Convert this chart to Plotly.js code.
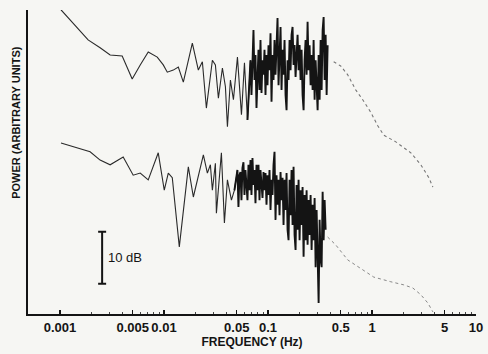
<!DOCTYPE html>
<html>
<head>
<meta charset="utf-8">
<script src="https://cdn.plot.ly/plotly-3.0.1.min.js"></script>
<style>html,body{margin:0;padding:0;background:#f6f6f3;}#chart{width:488px;height:354px;}</style>
</head>
<body>
<div id="chart"></div>
<script>
// ---- Upper spectrum (Hz, dB) ----
const upperFreq = [0.001022,0.001395,0.001862,0.002429,0.003033,0.00396,0.004943,0.005903,0.007051,0.008608,0.009835,0.010748,0.012279,0.013721,0.015333,0.018722,0.021386,0.023376,0.025543,0.029184,0.031189,0.033336,0.036428,0.038937,0.040703,0.043501,0.046497,0.050821,0.055545,0.059362,0.063445,
0.06781,0.06934,0.07089,0.07248,0.07411,0.07577,0.07747,0.07921,0.08099,0.08280,0.08466,0.08656,0.08850,0.09049,0.09252,0.09459,0.09672,0.09889,0.10110,0.10337,0.10569,0.10806,0.11049,0.11297,0.11550,0.11809,0.12074,0.12345,0.12622,0.12905,0.13195,0.13491,0.13794,0.14103,0.14420,0.14743,0.15074,0.15412,0.15758,0.16112,0.16473,0.16843,0.17221,0.17607,0.18002,0.18406,0.18819,0.19241,0.19673,0.20114,0.20566,0.21027,0.21499,0.21981,0.22474,0.22978,0.23494,0.24021,0.24560,0.25111,0.25675,0.26251,0.26840,0.27442,0.28058,0.28687,0.29331,0.29989,0.30662,0.31350,0.32053,0.32772,0.33508,0.34259,0.35028,0.35814,0.36618,0.37439];
const upperPower = [58.5,55.6,52.7,51.2,49.8,49.6,45.2,47.9,50.4,49.4,47.9,46.5,46.9,47.5,44.6,52.1,46.9,48.5,39.6,48.8,47.9,41.5,47.3,43.7,36.0,45.0,41.2,49.4,38.3,48.3,37.3,
48.8,42.1,51.7,54.6,45.0,49.8,39.6,46.9,50.8,43.1,52.7,42.5,48.8,46.0,50.8,42.1,49.8,44.0,51.7,46.9,54.0,40.8,49.8,45.0,52.7,46.0,50.8,56.9,44.0,51.7,55.2,43.1,50.8,46.0,52.7,42.1,39.2,48.8,45.0,52.7,46.9,53.7,55.2,47.9,51.7,45.6,50.8,53.7,46.9,51.7,45.0,50.8,42.1,39.2,48.8,52.7,46.0,56.2,46.9,51.7,44.0,49.8,43.1,52.7,41.2,48.8,44.0,39.2,49.8,41.2,52.7,43.1,54.6,57.1,45.0,53.7,42.1,51.7];
const upperSmoothCount = 31;   // points before the dense high-resolution band
const upperTailFreq = [0.4279,0.4997,0.5840,0.6972,0.8144,0.9726,1.1363,1.2980,1.6941,2.3631,2.9497,3.5236,3.8509];
const upperTailPower = [48.5,47.7,46.0,43.1,41.2,38.8,36.2,34.4,33.1,31.0,28.7,26.2,24.4];

// ---- Lower spectrum (Hz, dB) ----
const lowerFreq = [0.001022,0.001395,0.001946,0.002429,0.003033,0.004049,0.005054,0.005903,0.007051,0.008801,0.010056,0.010989,0.012009,0.014029,0.017130,0.019142,0.023900,0.026117,0.027912,0.029184,0.031189,0.031889,0.035628,0.038082,0.040703,0.044477,0.047540,
0.05082,0.05196,0.05313,0.05432,0.05554,0.05679,0.05806,0.05936,0.06069,0.06206,0.06345,0.06487,0.06633,0.06781,0.06934,0.07089,0.07248,0.07411,0.07577,0.07747,0.07921,0.08099,0.08280,0.08466,0.08656,0.08850,0.09049,0.09252,0.09459,0.09672,0.09889,0.10110,0.10337,0.10569,0.10806,0.11049,0.11297,0.11550,0.11809,0.12074,0.12345,0.12622,0.12905,0.13195,0.13491,0.13794,0.14103,0.14420,0.14743,0.15074,0.15412,0.15758,0.16112,0.16473,0.16843,0.17221,0.17607,0.18002,0.18406,0.18819,0.19241,0.19673,0.20114,0.20566,0.21027,0.21499,0.21981,0.22474,0.22978,0.23494,0.24021,0.24560,0.25111,0.25675,0.26251,0.26840,0.27442,0.28058,0.28687,0.29331,0.29989,0.30662,0.31350,0.32053,0.32772,0.33508,0.34259,0.35028,0.35814];
const lowerPower = [32.9,32.1,31.2,29.6,28.7,30.2,26.7,27.1,25.8,31.0,23.8,27.1,26.2,12.9,28.3,22.5,30.6,27.1,28.7,23.8,29.0,19.4,31.0,17.5,25.8,21.9,23.8,
27.7,20.6,26.7,27.3,21.9,28.1,29.2,22.9,27.7,24.8,21.9,28.7,23.8,29.6,22.9,30.0,24.8,27.7,21.3,28.7,23.8,28.7,21.9,27.7,24.8,22.3,27.3,23.8,27.1,21.0,26.7,22.9,27.7,20.0,25.8,22.9,28.7,31.2,18.1,26.7,21.0,25.8,19.0,27.3,21.9,26.2,17.1,25.8,20.0,27.1,16.2,14.2,25.8,19.0,27.7,17.1,28.3,15.2,12.3,24.8,16.2,25.8,14.2,23.8,17.1,24.4,11.0,22.9,14.2,23.8,13.3,21.9,15.2,22.9,12.3,21.0,14.2,22.3,9.0,20.0,11.3,2.1,18.1,10.4,9.0,23.5,14.2,21.9,16.2];
const lowerSmoothCount = 27;
const lowerTailFreq = [0.3744,0.4474,0.5840,0.7791,1.0396,1.5161,2.0232,2.4704,2.9497,3.4463,3.8509];
const lowerTailPower = [14.8,13.3,10.4,8.8,7.1,6.2,5.6,5.0,3.7,2.1,0.4];

// ---- Scale bar (10 dB) ----
const scaleFreq = [0.00254];
const scaleMid = [10.8];
const scaleHalf = [5];

// ---- Axis ticks ----
const tickVals = [0.001,0.005,0.01,0.05,0.1,0.5,1,5,10];
const tickText = ['0.001','0.005','0.01','0.05','0.1','0.5','1','5','10'];
const minorVals = [];
[0.001,0.01,0.1,1].forEach(d => { for (let k = 2; k <= 9; k++) minorVals.push(d * k); });

const ink = '#141414';
const traces = [
  {x: upperFreq.slice(0, upperSmoothCount + 1), y: upperPower.slice(0, upperSmoothCount + 1), mode:'lines', line:{color:'#2a2a2a', width:1.1}, hoverinfo:'skip'},
  {x: upperFreq.slice(upperSmoothCount - 1), y: upperPower.slice(upperSmoothCount - 1), mode:'lines', line:{color:ink, width:1.9}, hoverinfo:'skip'},
  {x: upperTailFreq, y: upperTailPower, mode:'lines', line:{color:'#777', width:1.1, dash:'3px,3px'}, hoverinfo:'skip'},
  {x: lowerFreq.slice(0, lowerSmoothCount + 1), y: lowerPower.slice(0, lowerSmoothCount + 1), mode:'lines', line:{color:'#2a2a2a', width:1.1}, hoverinfo:'skip'},
  {x: lowerFreq.slice(lowerSmoothCount - 1), y: lowerPower.slice(lowerSmoothCount - 1), mode:'lines', line:{color:ink, width:1.9}, hoverinfo:'skip'},
  {x: lowerTailFreq, y: lowerTailPower, mode:'lines', line:{color:'#888', width:1.0, dash:'3px,3px'}, hoverinfo:'skip'},
  {x: scaleFreq, y: scaleMid, mode:'markers', marker:{size:1, color:ink},
   error_y:{type:'data', array:scaleHalf, symmetric:true, color:ink, thickness:2, width:4}, hoverinfo:'skip'}
];

const layout = {
  width:488, height:354,
  margin:{l:28, r:12, t:10, b:40},
  paper_bgcolor:'#f6f6f3', plot_bgcolor:'#f6f6f3',
  showlegend:false,
  font:{family:'Liberation Sans, Arial, sans-serif', color:ink},
  xaxis:{
    type:'log', range:[-3.308, 1.0],
    tickvals:tickVals, ticktext:tickText, tickangle:0,
    ticks:'inside', ticklen:4, tickwidth:1.2, tickcolor:ink,
    minor:{ticks:'inside', ticklen:2, tickwidth:1, tickcolor:'#444', tickmode:'array', tickvals:minorVals},
    showline:true, linecolor:ink, linewidth:2,
    showgrid:false, zeroline:false,
    tickfont:{size:13, color:ink, weight:'bold'},
    title:{text:'FREQUENCY (Hz)', font:{size:12, weight:'bold', color:ink}, standoff:4}
  },
  yaxis:{
    range:[0, 58.46],
    showticklabels:false, ticks:'',
    showline:true, linecolor:ink, linewidth:2,
    showgrid:false, zeroline:false
  },
  annotations:[
    {xref:'paper', yref:'paper', x:-0.027, y:0.632, text:'POWER (ARBITRARY UNITS)', textangle:-90,
     showarrow:false, font:{size:11, weight:'bold', color:ink}, xanchor:'center', yanchor:'middle'},
    {x:Math.log10(0.00278), y:10.8, text:'10 dB', showarrow:false, xanchor:'left', yanchor:'middle',
     font:{size:13, color:ink}}
  ]
};

Plotly.newPlot('chart', traces, layout, {staticPlot:true, displayModeBar:false});
</script>
</body>
</html>
